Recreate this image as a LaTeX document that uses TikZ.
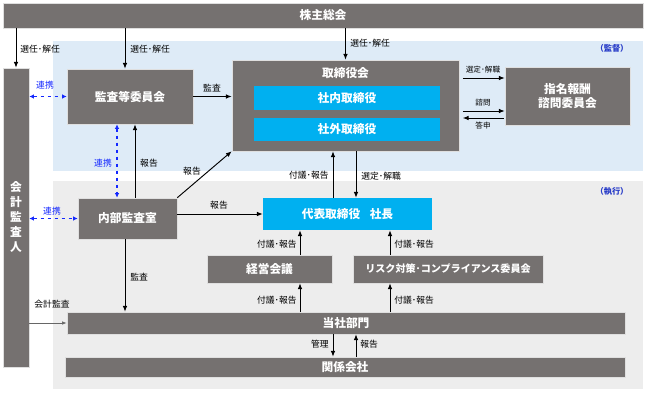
\documentclass[tikz,border=0pt]{standalone}
\usepackage{fontspec}
\setmainfont{Noto Sans CJK JP}
\usetikzlibrary{arrows.meta}
\definecolor{boxgray}{RGB}{117,113,112}
\definecolor{kanbg}{RGB}{222,235,247}
\definecolor{shikobg}{RGB}{237,237,237}
\definecolor{cyanbox}{RGB}{0,176,240}
\definecolor{renkei}{RGB}{20,40,255}
\definecolor{zonetxt}{RGB}{40,60,200}
\begin{document}
\begin{tikzpicture}[x=0.03cm,y=-0.03cm,
  box/.style={draw=gray!25,line width=0.5pt,fill=boxgray,text=white,inner sep=0pt,
    font=\fontsize{10}{12}\selectfont\bfseries},
  cbox/.style={fill=cyanbox,text=white,inner sep=0pt,font=\fontsize{10}{12}\selectfont\bfseries},
  lbl/.style={font=\fontsize{7.5}{9}\selectfont,inner sep=1pt},
  slbl/.style={font=\fontsize{6.5}{8}\selectfont,inner sep=1pt},
  arr/.style={-{Latex[length=5pt,width=4pt]},line width=0.8pt},
  link/.style={{Latex[length=4pt,width=4pt]}-{Latex[length=4pt,width=4pt]},dashed,renkei,line width=0.9pt}]
  \useasboundingbox (0,0) rectangle (647,393);
  % zones
  \fill[kanbg] (53,41) rectangle (643,171);
  \fill[shikobg] (53,181) rectangle (643,389);
  \node[slbl,text=zonetxt,font=\fontsize{7}{8}\selectfont\bfseries] (kantoku) at (612,48) {（監督）};
  \node[slbl,text=zonetxt,font=\fontsize{7}{8}\selectfont\bfseries] (shikko) at (612,191) {（執行）};
  % boxes
  \node[box,minimum width=19.2cm,minimum height=0.75cm] (soukai) at (323,15.5) {株主総会};
  \node[box,minimum width=0.78cm,minimum height=8.97cm,align=center,
    font=\fontsize{10}{12.8}\selectfont\bfseries] (kaikei) at (16,217.5) {会\\計\\監\\査\\人};
  \node[box,minimum width=3.78cm,minimum height=1.65cm] (kansa) at (130,96.5) {監査等委員会};
  \node[box,minimum width=6.81cm,minimum height=2.73cm] (tori) at (345.5,105.5) {};
  \node[text=white,font=\fontsize{10}{12}\selectfont\bfseries,inner sep=0pt] (torititle) at (345.5,73) {取締役会};
  \node[cbox,minimum width=5.58cm,minimum height=0.72cm] (shanai) at (347,98) {社内取締役};
  \node[cbox,minimum width=5.58cm,minimum height=0.69cm] (shagai) at (347,129.5) {社外取締役};
  \node[box,minimum width=3.75cm,minimum height=1.74cm,align=center] (shimei) at (567.5,96) {指名報酬\\諮問委員会};
  \node[box,minimum width=2.97cm,minimum height=1.23cm] (naibu) at (127.5,218.5) {内部監査室};
  \node[cbox,minimum width=5.07cm,minimum height=0.96cm] (daihyo) at (347.5,214) {代表取締役\hspace{0.8em}社長};
  \node[box,minimum width=3.75cm,minimum height=0.84cm] (keiei) at (269.5,269) {経営会議};
  \node[box,minimum width=5.7cm,minimum height=0.84cm,font=\fontsize{8.6}{10}\selectfont\bfseries] (risk) at (448,269) {リスク対策･コンプライアンス委員会};
  \node[box,minimum width=16.74cm,minimum height=0.66cm] (tousha) at (346,323) {当社部門};
  \node[box,minimum width=16.8cm,minimum height=0.6cm] (kankei) at (345,367) {関係会社};
  % columns and rows for connectors
  \coordinate (xa) at (333,0);
  \coordinate (xb) at (356,0);
  \coordinate (xc) at (300,0);
  \coordinate (xd) at (390,0);
  \coordinate (xe) at (125,0);
  \coordinate (xf) at (135,0);
  \coordinate (xg) at (117,0);
  \coordinate (ya) at (0,78);
  \coordinate (yb) at (0,111);
  \coordinate (yc) at (0,118);
  % shareholders
  \draw[arr] (kaikei.north |- soukai.south) -- (kaikei.north);
  \draw[arr] (soukai.south -| xe) -- (kansa.north -| xe);
  \draw[arr] (soukai.south -| tori.north) -- (tori.north);
  \node[lbl,anchor=west] (sen1) at (19,49) {選任･解任};
  \node[lbl,anchor=west] (sen2) at (129,49) {選任･解任};
  \node[lbl,anchor=west] (sen3) at (349,43) {選任･解任};
  % supervision
  \draw[link] (kaikei.east |- kansa.west) -- (kansa.west);
  \node[lbl,text=renkei] (ren1) at (45,85) {連携};
  \draw[arr] (kansa.east) -- (kansa.east -| tori.west);
  \node[lbl] (kan1) at (212,88) {監査};
  \draw[arr,shorten <=3pt] (tori.east |- ya) -- (shimei.west |- ya);
  \draw[arr,shorten <=3pt] (tori.east |- yb) -- (shimei.west |- yb);
  \draw[arr,shorten >=3pt,shorten <=1pt] (shimei.west |- yc) -- (tori.east |- yc);
  \node[slbl] (sentei1) at (483,70) {選定･解職};
  \node[slbl] (shimon) at (483,103) {諮問};
  \node[slbl] (toushin) at (483,126) {答申};
  % internal audit
  \draw[link] (kansa.south -| xg) -- (naibu.north -| xg);
  \node[lbl,text=renkei] (ren2) at (103,163) {連携};
  \draw[arr] (naibu.north -| xf) -- (kansa.south -| xf);
  \node[lbl] (hou1) at (149,163) {報告};
  \draw[arr] (naibu.north east) -- (tori.south west);
  \node[lbl] (hou2) at (192,171) {報告};
  \draw[link] (kaikei.east |- naibu.west) -- (naibu.west);
  \node[lbl,text=renkei] (ren3) at (52,211) {連携};
  \draw[arr] (naibu.east |- daihyo.west) -- (daihyo.west);
  \node[lbl] (hou3) at (219,205) {報告};
  % execution
  \draw[arr] (daihyo.north -| xa) -- (tori.south -| xa);
  \node[lbl,anchor=east] (fugi1) at (330,175) {付議･報告};
  \draw[arr] (tori.south -| xb) -- (daihyo.north -| xb);
  \node[lbl,anchor=west] (sentei2) at (360,176) {選定･解職};
  \draw[arr] (keiei.north -| xc) -- (daihyo.south -| xc);
  \node[lbl,anchor=east] (fugi2) at (298,244) {付議･報告};
  \draw[arr] (risk.north -| xd) -- (daihyo.south -| xd);
  \node[lbl,anchor=west] (fugi3) at (393,244) {付議･報告};
  \draw[arr] (naibu.south -| xe) -- (tousha.north -| xe);
  \node[lbl,anchor=west] (kan2) at (129,277) {監査};
  \draw[-{Latex[length=4pt,width=3pt]},line width=0.6pt,gray!80!black] (kaikei.east |- tousha.west) -- (tousha.west);
  \node[lbl] (kaikeikansa) at (52,304) {会計監査};
  \draw[arr] (tousha.north -| xc) -- (keiei.south -| xc);
  \node[lbl,anchor=east] (fugi4) at (298,300) {付議･報告};
  \draw[arr] (tousha.north -| xd) -- (risk.south -| xd);
  \node[lbl,anchor=west] (fugi5) at (393,300) {付議･報告};
  % group companies
  \draw[arr] (tousha.south -| xa) -- (kankei.north -| xa);
  \node[lbl,anchor=east] (kanri) at (330,344) {管理};
  \draw[arr] (kankei.north -| xb) -- (tousha.south -| xb);
  \node[lbl,anchor=west] (hou4) at (359,344) {報告};
\end{tikzpicture}
\end{document}
